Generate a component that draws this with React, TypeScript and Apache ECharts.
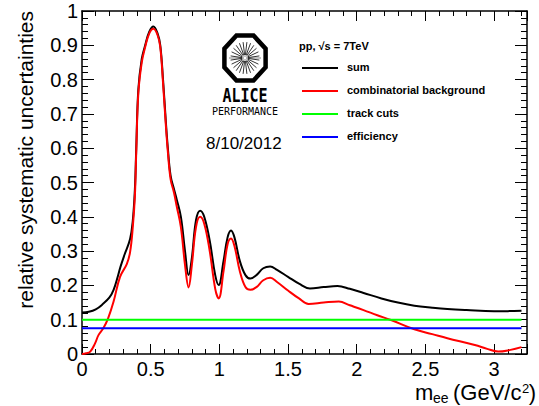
import React, { useEffect, useRef } from 'react';
import * as echarts from 'echarts';

// ---- data ----
const sumMass = [0.0, 0.05, 0.1, 0.15, 0.2, 0.23, 0.26, 0.28, 0.31, 0.35, 0.37, 0.385, 0.395, 0.41, 0.435, 0.46, 0.49, 0.52, 0.55, 0.57, 0.59, 0.61, 0.625, 0.645, 0.67, 0.69, 0.72, 0.75, 0.776, 0.80, 0.83, 0.86, 0.89, 0.93, 0.97, 0.995, 1.03, 1.06, 1.085, 1.11, 1.15, 1.19, 1.226, 1.27, 1.32, 1.37, 1.42, 1.5, 1.58, 1.66, 1.76, 1.86, 1.95, 2.05, 2.18, 2.3, 2.42, 2.55, 2.66, 2.8, 3.0, 3.1, 3.2];
const sumValues = [0.121, 0.123, 0.13, 0.145, 0.165, 0.187, 0.225, 0.254, 0.29, 0.335, 0.39, 0.48, 0.6, 0.77, 0.86, 0.9, 0.94, 0.955, 0.935, 0.9, 0.8, 0.68, 0.6, 0.52, 0.48, 0.45, 0.4, 0.3, 0.23, 0.28, 0.39, 0.418, 0.4, 0.33, 0.23, 0.201, 0.27, 0.34, 0.36, 0.34, 0.27, 0.23, 0.22, 0.23, 0.25, 0.255, 0.245, 0.225, 0.205, 0.191, 0.195, 0.198, 0.19, 0.178, 0.162, 0.15, 0.141, 0.135, 0.131, 0.128, 0.125, 0.125, 0.126];

const combMass = [0.0, 0.03, 0.06, 0.095, 0.12, 0.155, 0.19, 0.23, 0.277, 0.326, 0.35, 0.37, 0.385, 0.395, 0.41, 0.435, 0.46, 0.49, 0.52, 0.55, 0.57, 0.59, 0.61, 0.625, 0.645, 0.67, 0.69, 0.72, 0.75, 0.776, 0.80, 0.83, 0.86, 0.89, 0.93, 0.97, 0.995, 1.03, 1.06, 1.085, 1.11, 1.15, 1.19, 1.226, 1.27, 1.32, 1.37, 1.42, 1.5, 1.58, 1.65, 1.76, 1.87, 1.95, 2.05, 2.15, 2.25, 2.42, 2.55, 2.66, 2.86, 2.95, 3.03, 3.12, 3.2];
const combValues = [0.0, 0.002, 0.007, 0.031, 0.055, 0.075, 0.104, 0.153, 0.225, 0.262, 0.297, 0.371, 0.46, 0.59, 0.76, 0.85, 0.895, 0.935, 0.948, 0.93, 0.895, 0.79, 0.67, 0.59, 0.51, 0.47, 0.43, 0.37, 0.26, 0.194, 0.26, 0.37, 0.4, 0.38, 0.3, 0.19, 0.162, 0.24, 0.32, 0.337, 0.315, 0.24, 0.195, 0.187, 0.195, 0.215, 0.222, 0.21, 0.185, 0.162, 0.146, 0.15, 0.153, 0.142, 0.128, 0.113, 0.099, 0.072, 0.058, 0.046, 0.026, 0.015, 0.007, 0.012, 0.02];

const flatMass = [0.0, 3.2];
const trackCutsValues = [0.1, 0.1];
const efficiencyValues = [0.075, 0.075];

const legendLabels = ['sum', 'combinatorial background', 'track cuts', 'efficiency'];
const legendColors = ['#000000', '#ff0000', '#00ff00', '#0000ff'];
const xTickLabels = [0, 0.5, 1, 1.5, 2, 2.5, 3];

const W = 539;
const H = 406;

const zip = (xs: number[], ys: number[]) => xs.map((x, i) => [x, ys[i]]);

export default function App() {
  const ref = useRef<HTMLDivElement>(null);
  useEffect(() => {
    const chart = echarts.init(ref.current!, null, { renderer: 'svg' });
    const font = 'Liberation Sans, Arial, Helvetica, sans-serif';
    const mono = 'DejaVu Sans Mono, monospace';
    const frame = { color: '#000', width: 1.5 };
    const tickStyle = { color: '#000', width: 1 };
    const xBase: any = {
      type: 'value', min: 0, max: 3.24,
      splitLine: { show: false },
    };
    const isXLabel = (v: number) => xTickLabels.some((t) => Math.abs(t - v) < 1e-6);

    // ALICE logo pieces
    const oct: number[][] = [];
    for (let k = 0; k < 8; k++) {
      const a = ((22.5 + 45 * k) * Math.PI) / 180;
      oct.push([22.3 * Math.cos(a), 24.3 * Math.sin(a)]);
    }
    const spokes: any[] = [];
    for (let k = 0; k < 24; k++) {
      const a = ((7.5 + 15 * k) * Math.PI) / 180;
      spokes.push({
        type: 'line',
        shape: { x1: 3 * Math.cos(a), y1: 3 * Math.sin(a), x2: 14.5 * Math.cos(a), y2: 16 * Math.sin(a) },
        style: { stroke: '#000', lineWidth: 0.8 },
      });
    }

    const legendItems: any[] = [];
    legendLabels.forEach((lab, i) => {
      const y = 68 + i * 23;
      legendItems.push({
        type: 'line',
        shape: { x1: 302, y1: y, x2: 338, y2: y },
        style: { stroke: legendColors[i], lineWidth: 2 },
      });
      legendItems.push({
        type: 'text', x: 347, y: y - 1,
        style: { text: lab, font: 'bold 11px ' + font, fill: '#000', textAlign: 'left', textVerticalAlign: 'middle' },
      });
    });

    chart.setOption({
      animation: false,
      backgroundColor: '#fff',
      grid: { left: 82, right: 12, top: 11, bottom: 52, containLabel: false },
      xAxis: [
        {
          ...xBase, position: 'bottom', interval: 0.5,
          axisLine: { show: true, onZero: false, lineStyle: frame },
          axisTick: { show: true, inside: true, length: 10, lineStyle: tickStyle },
          axisLabel: {
            show: true, margin: 5, color: '#000', fontSize: 20, fontFamily: font,
            formatter: (v: number) => (isXLabel(v) ? String(Math.round(v * 2) / 2) : ''),
          },
        },
        {
          ...xBase, position: 'bottom', interval: 0.1,
          axisLine: { show: false, onZero: false },
          axisTick: { show: true, inside: true, length: 5, lineStyle: tickStyle },
          axisLabel: { show: false },
        },
        {
          ...xBase, position: 'top', interval: 0.5,
          axisLine: { show: true, onZero: false, lineStyle: frame },
          axisTick: { show: true, inside: true, length: 10, lineStyle: tickStyle },
          axisLabel: { show: false },
        },
        {
          ...xBase, position: 'top', interval: 0.1,
          axisLine: { show: false, onZero: false },
          axisTick: { show: true, inside: true, length: 5, lineStyle: tickStyle },
          axisLabel: { show: false },
        },
      ],
      yAxis: [
        {
          type: 'value', min: 0, max: 1, interval: 0.1, position: 'left',
          splitLine: { show: false },
          axisLine: { show: true, onZero: false, lineStyle: frame },
          axisTick: { show: true, inside: true, length: 12, lineStyle: tickStyle },
          minorTick: { show: true, splitNumber: 5, length: 6, lineStyle: tickStyle },
          minorSplitLine: { show: false },
          axisLabel: {
            show: true, margin: 4, color: '#000', fontSize: 20, fontFamily: font,
            formatter: (v: number) => (v === 0 ? '0' : Math.abs(v - 1) < 1e-9 ? '1' : v.toFixed(1)),
          },
        },
        {
          type: 'value', min: 0, max: 1, interval: 0.1, position: 'right',
          splitLine: { show: false },
          axisLine: { show: true, onZero: false, lineStyle: frame },
          axisTick: { show: true, inside: true, length: 12, lineStyle: tickStyle },
          minorTick: { show: true, splitNumber: 5, length: 6, lineStyle: tickStyle },
          minorSplitLine: { show: false },
          axisLabel: { show: false },
        },
      ],
      series: [
        {
          name: legendLabels[0], type: 'line', xAxisIndex: 0, yAxisIndex: 0,
          data: zip(sumMass, sumValues), showSymbol: false, symbol: 'none',
          smooth: 0.4,
          lineStyle: { color: legendColors[0], width: 2 }, z: 2,
        },
        {
          name: legendLabels[1], type: 'line', xAxisIndex: 0, yAxisIndex: 0,
          data: zip(combMass, combValues), showSymbol: false, symbol: 'none',
          smooth: 0.4,
          lineStyle: { color: legendColors[1], width: 2 }, z: 3,
        },
        {
          name: legendLabels[2], type: 'line', xAxisIndex: 0, yAxisIndex: 0,
          data: zip(flatMass, trackCutsValues), showSymbol: false, symbol: 'none',
          lineStyle: { color: legendColors[2], width: 2 }, z: 4,
        },
        {
          name: legendLabels[3], type: 'line', xAxisIndex: 0, yAxisIndex: 0,
          data: zip(flatMass, efficiencyValues), showSymbol: false, symbol: 'none',
          lineStyle: { color: legendColors[3], width: 2 }, z: 4,
        },
      ],
      graphic: [
        // y axis title
        {
          type: 'text', x: 25, y: 11, rotation: Math.PI / 2,
          style: { text: 'relative systematic uncertainties', font: '21px ' + font, fill: '#000', textAlign: 'right', textVerticalAlign: 'middle' },
        },
        // x axis title pieces
        { type: 'text', x: 415, y: 392, style: { text: 'm', font: '22px ' + font, fill: '#000', textAlign: 'left', textVerticalAlign: 'middle' } },
        { type: 'text', x: 433, y: 398, style: { text: 'ee', font: '14px ' + font, fill: '#000', textAlign: 'left', textVerticalAlign: 'middle' } },
        { type: 'text', x: 453, y: 392, style: { text: '(GeV/c', font: '22px ' + font, fill: '#000', textAlign: 'left', textVerticalAlign: 'middle' } },
        { type: 'text', x: 522, y: 388, style: { text: '2', font: '13px ' + font, fill: '#000', textAlign: 'left', textVerticalAlign: 'middle' } },
        { type: 'text', x: 536, y: 392, style: { text: ')', font: '22px ' + font, fill: '#000', textAlign: 'right', textVerticalAlign: 'middle' } },
        // ALICE logo
        {
          type: 'group', x: 245, y: 58,
          children: [
            { type: 'polygon', shape: { points: oct }, style: { fill: '#fff', stroke: '#000', lineWidth: 4.5 } },
            { type: 'line', shape: { x1: -16, y1: 0, x2: 16, y2: 0 }, style: { stroke: '#999', lineWidth: 1.2 } },
            ...spokes,
            { type: 'circle', shape: { cx: 0, cy: 0, r: 2 }, style: { fill: '#fff', stroke: '#888', lineWidth: 0.8 } },
          ],
        },
        {
          type: 'text', x: 245, y: 95, scaleY: 1.27,
          style: { text: 'ALICE', font: 'bold 15px ' + mono, fill: '#000', textAlign: 'center', textVerticalAlign: 'middle' },
        },
        {
          type: 'text', x: 245, y: 111,
          style: { text: 'PERFORMANCE', font: '10px ' + mono, fill: '#000', textAlign: 'center', textVerticalAlign: 'middle' },
        },
        {
          type: 'text', x: 206, y: 143,
          style: { text: '8/10/2012', font: '17px ' + font, fill: '#000', textAlign: 'left', textVerticalAlign: 'middle' },
        },
        // legend header
        {
          type: 'text', x: 299, y: 46,
          style: { text: 'pp, \u221As = 7TeV', font: 'bold 11px ' + font, fill: '#000', textAlign: 'left', textVerticalAlign: 'middle' },
        },
        ...legendItems,
      ],
    });
    return () => chart.dispose();
  }, []);
  return <div ref={ref} style={{ position: 'fixed', left: 0, top: 0, width: W, height: H, background: '#fff' }} />;
}
